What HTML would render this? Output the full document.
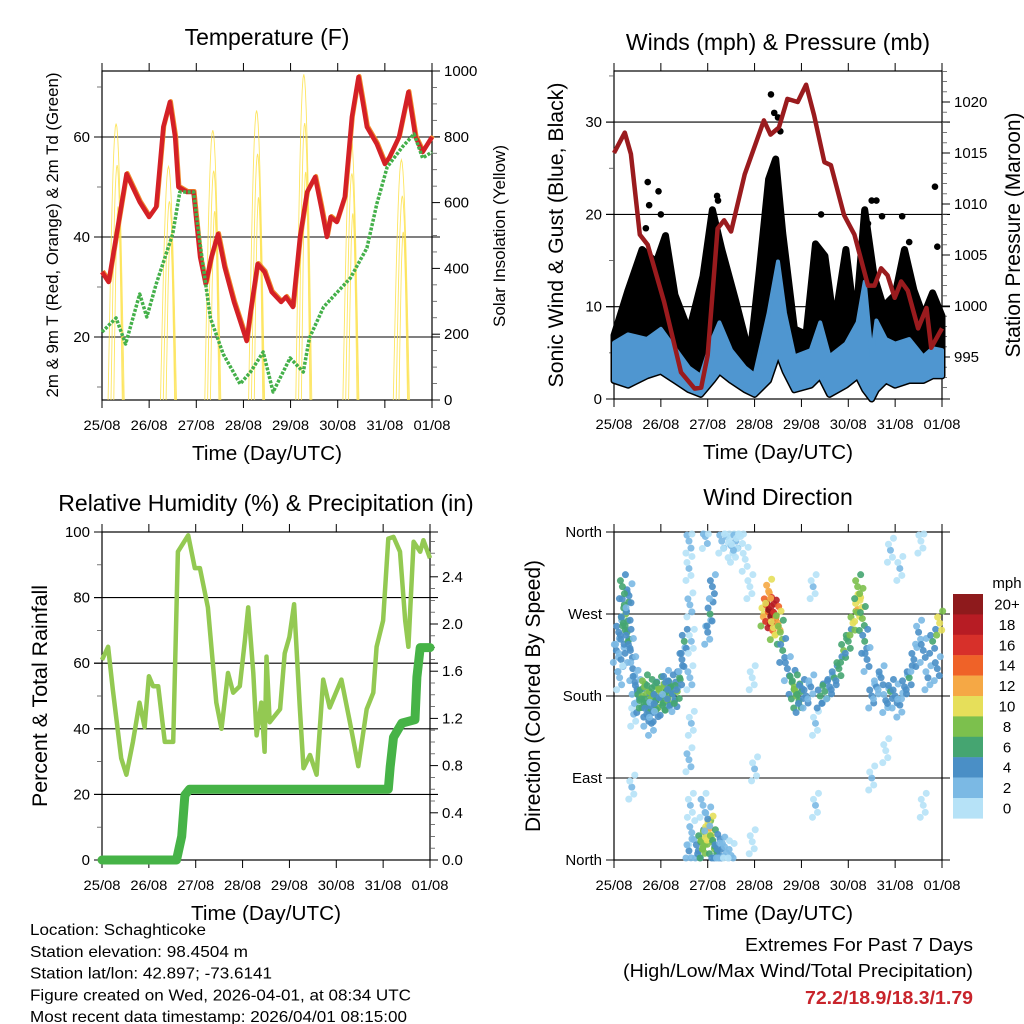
<!DOCTYPE html>
<html><head><meta charset="utf-8"><style>
html,body{margin:0;padding:0;background:#fff;}
svg{display:block;font-family:"Liberation Sans",sans-serif;}
</style></head><body>
<svg id="c" width="1024" height="1024" viewBox="0 0 1024 1024" xmlns="http://www.w3.org/2000/svg">
<rect width="1024" height="1024" fill="#fff"/>
<g id="g"></g>
</svg>
<script>
// ---------- DATA ----------
const dayLabels = ["25/08","26/08","27/08","28/08","29/08","30/08","31/08","01/08"];
// Temperature (F)
const tempT = [0,0.14,0.3,0.52,0.65,0.8,1.0,1.15,1.3,1.44,1.55,1.62,1.8,1.94,2.08,2.2,2.32,2.46,2.6,2.8,3.07,3.15,3.3,3.45,3.6,3.8,3.9,4.05,4.2,4.35,4.52,4.65,4.77,4.85,4.98,5.15,5.3,5.44,5.55,5.62,5.83,6.0,6.1,6.3,6.5,6.65,6.8,7.0];
const tempF = [33,31,40,52.6,50,47,44,46,62,67,60,50,49,49,36,30.6,36,40.6,34,27,19.2,25,34.6,33,29,27,28,26,40,49,52,46,40,44,43,48,64,72,66,62,58.6,54.6,56,60,69,60,57,60];
const dewT = [0,0.3,0.5,0.8,0.95,1.15,1.5,1.65,1.94,2.08,2.3,2.57,2.93,3.15,3.42,3.63,3.99,4.27,4.4,4.7,5.27,5.62,5.83,6.05,6.37,6.62,6.8,7.0];
const dewF = [21,23.8,18.6,28.6,24,30.6,40.6,49,49,38.6,23.8,16.6,10.6,13,17,9,15.8,13,19.8,26,31.8,37.8,46.6,54,58,60.6,55.8,57];
const solarPeakT = [0.32,1.43,2.37,3.3,4.3,5.3,6.37];
const solarPeak = [840,710,820,880,990,810,730];
// Winds (mph) & pressure (mb)
const presT = [0,0.23,0.36,0.55,0.72,1.07,1.43,1.72,1.86,2.0,2.21,2.35,2.5,2.79,3.2,3.34,3.52,3.7,3.92,4.1,4.27,4.49,4.63,4.91,5.13,5.42,5.56,5.7,5.84,5.99,6.13,6.27,6.49,6.67,6.77,7.0];
const presMb = [1015,1017,1014.9,1007,1006,1000.4,993.5,991.9,992,995.2,1007.6,1008.4,1007.3,1012.9,1018.2,1016.8,1017.5,1020.3,1020,1021.7,1018.7,1014.1,1013.8,1008.9,1007,1002,1002,1003.7,1003,1000.8,1002.4,1001.5,997.8,999.8,995.9,997.8];
const windT = [0,0.3,0.7,1.0,1.3,1.6,1.85,2.1,2.25,2.5,2.8,3.0,3.3,3.5,3.65,3.85,4.2,4.4,4.6,4.95,5.2,5.35,5.5,5.6,5.8,6.0,6.3,6.6,6.8,7.0];
const windMph = [6.1,7,6.5,7.6,5.5,3.4,2.5,6.5,8.3,5.3,3.4,2.6,9.3,14.9,9.3,4.6,5.3,8.3,4.6,6,8.3,12.7,4.6,8.5,6.5,6,6.5,4.6,5.5,5.3];
const windLow = [2,1.5,2.5,3,2,1,0.5,2,3,2,1,0.5,2,5,3,1,1.5,2.5,0.5,1.5,2.5,1,0,1,2,1.5,2,2,2.5,2.5];
const gustT = [0,0.3,0.6,0.9,1.1,1.3,1.6,1.9,2.1,2.3,2.6,2.9,3.1,3.3,3.45,3.6,3.85,4.1,4.3,4.5,4.7,4.95,5.15,5.35,5.55,5.75,6.0,6.2,6.4,6.6,6.8,7.0];
const gustMph = [6.9,11.8,16.2,14.8,17.7,11.3,7.3,13.3,20.5,16.2,10.6,4.6,13.9,23.8,26,18,7.6,7,16.8,15.5,8,16.2,8,20.5,13.3,10,11.3,16.2,11.8,9,11.5,9];
const gustOutT = [0.72,0.75,0.95,1.0,0.68,2.2,2.22,3.35,3.42,3.5,3.55,4.42,5.5,5.6,5.72,6.3,6.85,6.9,6.15,5.42];
const gustOutMph = [23.5,21,22.5,20,18.5,22,21.5,33,31,30.5,29,20,21.5,21.5,19.8,17,23,16.5,19.8,19];
// Relative humidity & precipitation
const rhT = [0,0.13,0.23,0.41,0.52,0.66,0.8,0.91,1.0,1.09,1.2,1.34,1.52,1.62,1.84,1.98,2.09,2.26,2.44,2.55,2.69,2.8,2.94,3.05,3.12,3.23,3.3,3.4,3.47,3.51,3.58,3.8,3.9,4.0,4.1,4.22,4.3,4.44,4.58,4.72,4.86,5.11,5.29,5.47,5.65,5.79,5.86,6.0,6.11,6.22,6.36,6.47,6.54,6.65,6.79,6.86,7.0];
const rhPct = [61,65,52,31,26,36,48,40.5,56,53,53,36,36,94,99,89,89,77,48,40,57,51,53,67,77,57,38,48,33,62,42,46,63,68,78,47,28,32,26,55,46.5,55,42,28.6,46,51,65,73,98,98.5,94,73,65,97,94,97.5,92];
const prT = [0,1.59,1.7,1.77,1.87,6.11,6.15,6.22,6.4,6.68,6.72,6.79,7.0];
const prIn = [0,0,0.2,0.55,0.6,0.6,0.79,1.04,1.16,1.19,1.55,1.8,1.8];
// Wind direction scatter
const dirT = [0.05,0.1,0.15,0.2,0.25,0.28,0.3,0.35,0.4,0.45,0.12,0.22,0.32,0.18,0.42,0.38,
0.5,0.55,0.6,0.65,0.7,0.75,0.8,0.85,0.9,0.95,1.0,1.05,1.1,1.15,1.2,1.25,1.3,1.35,1.4,1.45,1.5,0.7,0.9,1.1,0.8,
1.6,1.6,1.62,1.65,1.62,1.65,1.6,1.63,1.66,1.6,
1.8,1.85,1.9,1.95,2.0,2.05,2.1,2.15,2.2,2.25,2.3,2.4,2.5,2.0,1.9,
1.95,2.0,2.05,2.1,2.3,2.4,2.5,2.6,2.7,2.55,2.8,2.9,2.95,3.0,2.95,
3.2,3.25,3.3,3.35,3.4,3.45,3.5,3.3,3.4,3.55,3.6,3.7,3.8,
3.85,3.9,3.95,4.0,4.1,4.2,4.3,4.25,4.3,
4.4,4.5,4.6,4.7,4.8,4.9,5.0,5.1,5.2,5.25,5.3,5.35,5.4,5.2,
5.5,5.6,5.7,5.8,5.9,6.0,6.1,6.2,6.3,6.4,6.5,6.6,6.7,6.8,6.9,6.95,5.9,6.1,6.55,6.6,5.5,5.8];
const dirDeg = [230,250,220,260,270,250,240,230,210,195,200,280,290,300,160,80,
185,175,180,190,170,185,178,182,175,188,180,172,183,178,190,182,176,185,200,220,240,160,165,195,150,
350,320,280,240,200,150,110,60,30,10,
10,20,15,25,30,35,20,15,10,5,12,8,5,45,60,
355,250,270,300,350,355,345,350,355,340,330,300,200,100,20,
270,280,275,268,272,265,260,295,255,250,230,210,195,
190,180,175,185,180,190,150,300,60,
180,185,190,200,210,230,240,260,275,285,265,240,220,300,
180,190,200,175,185,180,170,190,200,220,250,230,200,240,210,260,340,320,350,60,90,120];
const dirSpd = [3,4,3,6,7,6,5,4,3,4,2,5,4,6,1,1,
4,6,7,8,6,7,8,6,5,7,9,6,8,7,5,6,4,7,5,4,5,4,5,4,3,
2,1,2,1,2,1,2,1,2,3,
4,6,8,9,10,11,8,6,5,4,3,2,2,3,2,
2,3,5,4,2,1,1,2,0,1,0,0,0,1,0,
10,14,18,20,19,16,12,12,10,8,5,4,6,
7,8,6,5,4,3,1,1,1,
5,6,4,5,6,7,6,9,11,10,7,5,4,8,
4,3,4,3,5,4,3,4,5,4,3,4,3,5,4,10,1,1,0,0,1,0];
const cbLabels = ["20+","18","16","14","12","10","8","6","4","2","0"];
const cbColors = ["#8e1a1c","#b71c24","#d7302a","#ef6228","#f5a845","#e6df5a","#7cc04d","#45a571","#4a8fc6","#7bb9e4","#b6e2f7"];

// ---------- HELPERS ----------
const NS="http://www.w3.org/2000/svg";
const root=document.getElementById('g');
function el(tag,attrs,name,parent){
  const e=document.createElementNS(NS,tag);
  for(const k in attrs) e.setAttribute(k,attrs[k]);
  
  
  (parent||root).appendChild(e);
  return e;
}
function txt(x,y,s,size,anchor,name,extra){
  const a=Object.assign({x:x,y:y,'font-size':size,'text-anchor':anchor||'middle',fill:'#000'},extra||{});
  const t=el('text',a,name);
  t.textContent=s;
  return t;
}
function rtxt(x,y,s,size,name,len){
  const t=el('text',{x:0,y:0,'font-size':size,'text-anchor':'middle',transform:`translate(${x},${y}) rotate(-90)`,textLength:len,lengthAdjust:'spacingAndGlyphs'},name);
  t.textContent=s;
}
function pathOf(xs,ys,fx,fy){return xs.map((v,i)=>(i?'L':'M')+fx(v).toFixed(1)+' '+fy(ys[i]).toFixed(1)).join(' ');}

function frame(L,R,T,B,title,ty,name){
  const g=el('g',{},name);
  el('rect',{x:L,y:T,width:R-L,height:B-T,fill:'none',stroke:'#000','stroke-width':1.2},name+'-frame',g);
  const xs=t=>L+t*(R-L)/7;
  for(let d=0;d<=7;d++){
    el('line',{x1:xs(d),y1:B,x2:xs(d),y2:B+8,stroke:'#000','stroke-width':1},name+'-xtick',g);
    el('line',{x1:xs(d),y1:T,x2:xs(d),y2:T-8,stroke:'#000','stroke-width':1},name+'-xtick-top',g);
    txt(xs(d),B+30,dayLabels[d],14,'middle',name+'-xlabel',{textLength:37,lengthAdjust:'spacingAndGlyphs'});
  }
  txt((L+R)/2,B+60,'Time (Day/UTC)',20,'middle',name+'-x-title',{textLength:150,lengthAdjust:'spacingAndGlyphs'});
  txt((L+R)/2,ty,title,23,'middle',name+'-title');
  return xs;
}
function yticks(L,R,vals,fy,labels,side,name,gridOn){
  vals.forEach((v,i)=>{
    const y=fy(v);
    if(side==='left'){
      el('line',{x1:L-8,y1:y,x2:L,y2:y,stroke:'#000','stroke-width':1},name+'-tick');
      if(gridOn) el('line',{x1:L-8,y1:y,x2:R+8,y2:y,stroke:'#000','stroke-width':1.1},name+'-gridline');
      txt(L-12,y+5,labels[i],15,'end',name+'-label');
    } else {
      el('line',{x1:R,y1:y,x2:R+8,y2:y,stroke:'#000','stroke-width':1},name+'-tick');
      txt(R+12,y+5,labels[i],15,'start',name+'-label');
    }
  });
}
function minor(x0,x1,vals,fy,name){
  vals.forEach(v=>{el('line',{x1:x0,y1:fy(v),x2:x1,y2:fy(v),stroke:'#555','stroke-width':0.8},name);});
}

// ---------- PANEL 1: TEMPERATURE ----------
(function(){
  const L=102,R=432,T=71,B=400;
  const xs=frame(L,R,T,B,'Temperature (F)',45,'temperature-panel');
  const yT=v=>B-(v-7.4)*5;
  const yS=s=>B-s*(B-T)/1000;
  yticks(L,R,[20,40,60],yT,['20','40','60'],'left','temp-y',true);
  yticks(L,R,[0,200,400,600,800,1000],yS,['0','200','400','600','800','1000'],'right','solar-y',false);
  minor(L-5,L,[10,30,50,70],yT,'temp-minor-tick');
  minor(R,R+5,[100,300,500,700,900,50,150,250,350,450,550,650,750,850,950],yS,'solar-minor-tick');
  // solar spikes
  solarPeakT.forEach((pt,i)=>{
    const pk=solarPeak[i];
    [[0.17,1],[0.13,0.85],[0.09,0.7]].forEach((w,j)=>{
      let d='';
      for(let k=0;k<=20;k++){
        const tt=pt-w[0]+k*w[0]/10;
        const f=Math.sin(Math.PI*k/20);
        d+=(k?'L':'M')+xs(tt+(j-1)*0.02).toFixed(1)+' '+yS(pk*w[1]*f).toFixed(1);
      }
      el('path',{d:d,fill:'none',stroke:'#fde24f','stroke-width':0.9,opacity:0.9},'solar-insolation-line');
    });
  });
  el('path',{d:pathOf(tempT,tempF,t=>xs(t)+1,v=>yT(v)-1),fill:'none',stroke:'#f08a2c','stroke-width':4,'stroke-linejoin':'round'},'temp-9m-orange-line');
  el('path',{d:pathOf(tempT,tempF,xs,yT),fill:'none',stroke:'#d42026','stroke-width':4.5,'stroke-linejoin':'round'},'temp-2m-red-line');
  el('path',{d:pathOf(dewT,dewF,xs,yT),fill:'none',stroke:'#44b04a','stroke-width':3.5,'stroke-dasharray':'3 1.5','stroke-linejoin':'round'},'dewpoint-green-line');
  rtxt(58,235,'2m & 9m T (Red, Orange) & 2m Td (Green)',17,'temp-y-title',325);
  rtxt(505,236,'Solar Insolation (Yellow)',17,'solar-y-title',182);
})();

// ---------- PANEL 2: WINDS ----------
(function(){
  const L=614,R=942,T=71,B=399;
  const xs=frame(L,R,T,B,'Winds (mph) & Pressure (mb)',50,'winds-panel');
  const yW=v=>B-v*9.23;
  const yP=p=>357-(p-995)*10.2;
  yticks(L,R,[0,10,20,30],yW,['0','10','20','30'],'left','wind-y',true);
  yticks(L,R,[995,1000,1005,1010,1015,1020],yP,['995','1000','1005','1010','1015','1020'],'right','pressure-y',false);
  minor(L-5,L,[5,15,25,35],yW,'wind-minor-tick');
  const mins=[];for(let p=992;p<=1023;p++){if(p%5)mins.push(p);}
  minor(R,R+5,mins,yP,'pressure-minor-tick');
  // gust band (black)
  let d=pathOf(gustT,gustMph,xs,yW);
  for(let i=windT.length-1;i>=0;i--) d+='L'+xs(windT[i]).toFixed(1)+' '+yW(windLow[i]).toFixed(1);
  el('path',{d:d+'Z',fill:'#000',stroke:'#000','stroke-width':7,'stroke-linejoin':'round'},'gust-black-band');
  gustOutT.forEach((t,i)=>{el('circle',{cx:xs(t),cy:yW(gustOutMph[i]),r:3.3,fill:'#000'},'gust-outlier-dot');});
  // wind band (blue)
  let d2=pathOf(windT,windMph,xs,yW);
  for(let i=windT.length-1;i>=0;i--) d2+='L'+xs(windT[i]).toFixed(1)+' '+yW(windLow[i]).toFixed(1);
  el('path',{d:d2+'Z',fill:'#4f96d0',stroke:'#4f96d0','stroke-width':4,'stroke-linejoin':'round'},'wind-blue-band');
  el('path',{d:pathOf(presT,presMb,xs,yP),fill:'none',stroke:'#9a1b1e','stroke-width':4.5,'stroke-linejoin':'round'},'pressure-maroon-line');
  rtxt(563,235,'Sonic Wind & Gust (Blue, Black)',21,'wind-y-title',305);
  rtxt(1020,235,'Station Pressure (Maroon)',21,'pressure-y-title',245);
})();

// ---------- PANEL 3: RH & PRECIP ----------
(function(){
  const L=102,R=430,T=532,B=860;
  const xs=frame(L,R,T,B,'Relative Humidity (%) & Precipitation (in)',511,'humidity-panel');
  const yR=v=>B-v*3.28;
  const yPr=v=>B-v*118;
  yticks(L,R,[0,20,40,60,80,100],yR,['0','20','40','60','80','100'],'left','rh-y',true);
  yticks(L,R,[0,0.4,0.8,1.2,1.6,2.0,2.4],yPr,['0.0','0.4','0.8','1.2','1.6','2.0','2.4'],'right','precip-y',false);
  minor(L-5,L,[10,30,50,70,90],yR,'rh-minor-tick');
  minor(R,R+5,[0.1,0.2,0.3,0.5,0.6,0.7,0.9,1.0,1.1,1.3,1.4,1.5,1.7,1.8,1.9,2.1,2.2,2.3,2.5,2.6,2.7],yPr,'precip-minor-tick');
  el('path',{d:pathOf(rhT,rhPct,xs,yR),fill:'none',stroke:'#93c952','stroke-width':4.5,'stroke-linejoin':'round'},'rh-line');
  el('path',{d:pathOf(prT,prIn,xs,yPr),fill:'none',stroke:'#46b347','stroke-width':9,'stroke-linejoin':'round','stroke-linecap':'round'},'precip-line');
  rtxt(47,696,'Percent & Total Rainfall',21,'rh-y-title',222);
})();

// ---------- PANEL 4: WIND DIRECTION ----------
(function(){
  const L=614,R=942,T=532,B=860;
  const xs=frame(L,R,T,B,'Wind Direction',505,'direction-panel');
  const yD=d=>B-d*(B-T)/360;
  yticks(L,R,[0,90,180,270,360],yD,['North','East','South','West','North'],'left','dir-y',true);
  const col=s=>cbColors[10-Math.min(10,Math.round(s/2))];
  const offs=[[0,0,0],[2,7,1],[-2,-6,1],[3,-12,2],[-3,12,2]];
  dirT.forEach((t,i)=>{
    offs.forEach(o=>{
      const cy=Math.max(T+2,Math.min(B-2,yD(dirDeg[i])+o[1]));
      el('circle',{cx:xs(t)+o[0],cy:cy,r:3.5,fill:col(Math.max(0,dirSpd[i]-o[2])),opacity:0.9},'direction-point');
    });
  });
  rtxt(540,696,'Direction (Colored By Speed)',21,'dir-y-title',272);
  // colorbar
  txt(1007,588,'mph',15,'middle','colorbar-unit');
  cbColors.forEach((c,i)=>{
    el('rect',{x:953,y:594+i*20.4,width:30,height:20.6,fill:c},'colorbar-box');
    txt(1007,594+i*20.4+15.5,cbLabels[i],15,'middle','colorbar-label');
  });
})();

// ---------- FOOTER ----------
const foot=["Location: Schaghticoke","Station elevation: 98.4504 m","Station lat/lon: 42.897; -73.6141","Figure created on Wed, 2026-04-01, at 08:34 UTC","Most recent data timestamp: 2026/04/01 08:15:00"];
const footW=[176,218,242,381,377];
foot.forEach((s,i)=>{txt(30,935+i*21.8,s,16,'start','footer-info-line',{textLength:footW[i],lengthAdjust:'spacingAndGlyphs'});});
txt(973,951,'Extremes For Past 7 Days',18,'end','extremes-title',{textLength:228,lengthAdjust:'spacingAndGlyphs'});
txt(973,977,'(High/Low/Max Wind/Total Precipitation)',18,'end','extremes-subtitle',{textLength:350,lengthAdjust:'spacingAndGlyphs'});
txt(973,1004,'72.2/18.9/18.3/1.79',18,'end','extremes-values',{fill:'#c8242b','font-weight':'bold',textLength:168,lengthAdjust:'spacingAndGlyphs'});
</script>
</body></html>
